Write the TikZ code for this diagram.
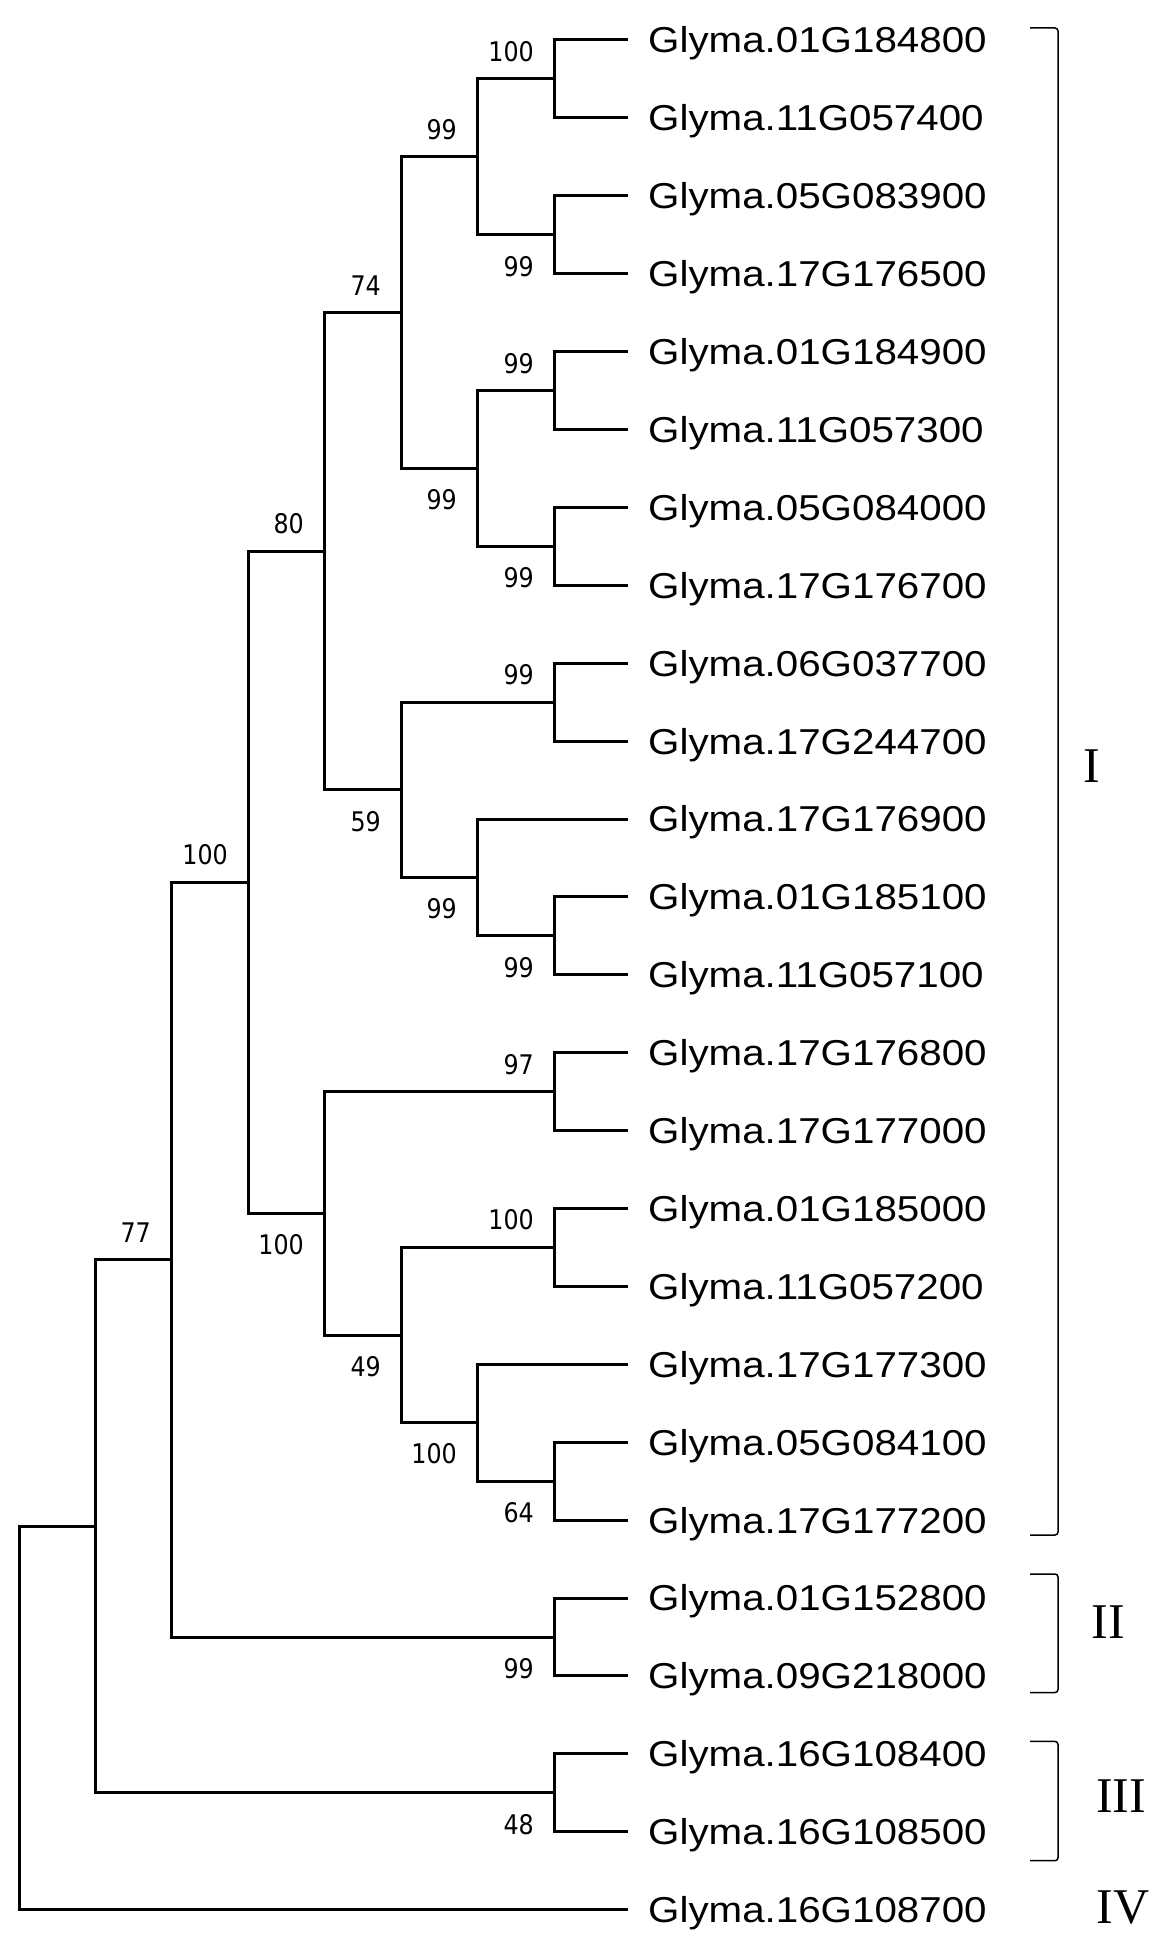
\documentclass[tikz,border=0pt]{standalone}
\usepackage{fontspec}
\setmainfont{Liberation Serif}
\newfontfamily\genefont[FakeStretch=1.12]{Liberation Sans}
\newfontfamily\bootfont[FakeStretch=0.88]{DejaVu Sans}
\usetikzlibrary{positioning}

\tikzset{
  branch/.style={line width=3pt},
  gene/.style={inner sep=0pt, text height=25.8pt, text depth=0pt,
    font=\genefont\fontsize{36}{40}\selectfont},
  boot/.style={inner sep=0pt, font=\bootfont\fontsize{27}{30}\selectfont},
  clade/.style={line width=1.5pt, rounded corners=3pt},
  cladename/.style={inner sep=0pt, font=\fontsize{50}{55}\selectfont}
}

\begin{document}
\begin{tikzpicture}[x=1pt, y=-1pt]
    \useasboundingbox (0,0) rectangle (1166,1956);

    % Leaf tips
    \coordinate (l1) at (628,40);
    \coordinate (l2) at (628,117.9);
    \coordinate (l3) at (628,195.8);
    \coordinate (l4) at (628,273.7);
    \coordinate (l5) at (628,351.6);
    \coordinate (l6) at (628,429.5);
    \coordinate (l7) at (628,507.4);
    \coordinate (l8) at (628,585.3);
    \coordinate (l9) at (628,663.2);
    \coordinate (l10) at (628,741.1);
    \coordinate (l11) at (628,819);
    \coordinate (l12) at (628,896.9);
    \coordinate (l13) at (628,974.8);
    \coordinate (l14) at (628,1052.7);
    \coordinate (l15) at (628,1130.6);
    \coordinate (l16) at (628,1208.5);
    \coordinate (l17) at (628,1286.4);
    \coordinate (l18) at (628,1364.3);
    \coordinate (l19) at (628,1442.2);
    \coordinate (l20) at (628,1520.1);
    \coordinate (l21) at (628,1598);
    \coordinate (l22) at (628,1675.9);
    \coordinate (l23) at (628,1753.8);
    \coordinate (l24) at (628,1831.7);
    \coordinate (l25) at (628,1909.6);

    % Gene names
    \node[gene, right=20pt of l1] (g1) {Glyma.01G184800};
    \node[gene, right=20pt of l2] (g2) {Glyma.11G057400};
    \node[gene, right=20pt of l3] (g3) {Glyma.05G083900};
    \node[gene, right=20pt of l4] (g4) {Glyma.17G176500};
    \node[gene, right=20pt of l5] (g5) {Glyma.01G184900};
    \node[gene, right=20pt of l6] (g6) {Glyma.11G057300};
    \node[gene, right=20pt of l7] (g7) {Glyma.05G084000};
    \node[gene, right=20pt of l8] (g8) {Glyma.17G176700};
    \node[gene, right=20pt of l9] (g9) {Glyma.06G037700};
    \node[gene, right=20pt of l10] (g10) {Glyma.17G244700};
    \node[gene, right=20pt of l11] (g11) {Glyma.17G176900};
    \node[gene, right=20pt of l12] (g12) {Glyma.01G185100};
    \node[gene, right=20pt of l13] (g13) {Glyma.11G057100};
    \node[gene, right=20pt of l14] (g14) {Glyma.17G176800};
    \node[gene, right=20pt of l15] (g15) {Glyma.17G177000};
    \node[gene, right=20pt of l16] (g16) {Glyma.01G185000};
    \node[gene, right=20pt of l17] (g17) {Glyma.11G057200};
    \node[gene, right=20pt of l18] (g18) {Glyma.17G177300};
    \node[gene, right=20pt of l19] (g19) {Glyma.05G084100};
    \node[gene, right=20pt of l20] (g20) {Glyma.17G177200};
    \node[gene, right=20pt of l21] (g21) {Glyma.01G152800};
    \node[gene, right=20pt of l22] (g22) {Glyma.09G218000};
    \node[gene, right=20pt of l23] (g23) {Glyma.16G108400};
    \node[gene, right=20pt of l24] (g24) {Glyma.16G108500};
    \node[gene, right=20pt of l25] (g25) {Glyma.16G108700};

    % Inner nodes
    \coordinate (na) at (554,79);
    \coordinate (nb) at (554,234.8);
    \coordinate (nc) at (477,156.9);
    \coordinate (nd) at (554,390.6);
    \coordinate (ne) at (554,546.4);
    \coordinate (nf) at (477,468.5);
    \coordinate (ng) at (401,312.7);
    \coordinate (nh) at (554,702.2);
    \coordinate (nj) at (554,935.9);
    \coordinate (nk) at (477,877.4);
    \coordinate (ni) at (401,789.8);
    \coordinate (nm) at (324,551.2);
    \coordinate (nn) at (554,1091.7);
    \coordinate (no) at (554,1247.5);
    \coordinate (np) at (554,1481.2);
    \coordinate (nq) at (477,1422.7);
    \coordinate (nr) at (401,1335.1);
    \coordinate (ns) at (324,1213.4);
    \coordinate (nt) at (248,882.3);
    \coordinate (nu) at (554,1637);
    \coordinate (nv) at (171,1259.6);
    \coordinate (nw) at (554,1792.8);
    \coordinate (nx) at (95,1526.2);
    \coordinate (nroot) at (19,1717.9);

    % Branches
    \draw[branch] (l1) -| (na) |- (l2);
    \draw[branch] (l3) -| (nb) |- (l4);
    \draw[branch] (na) -| (nc) |- (nb);
    \draw[branch] (l5) -| (nd) |- (l6);
    \draw[branch] (l7) -| (ne) |- (l8);
    \draw[branch] (nd) -| (nf) |- (ne);
    \draw[branch] (nc) -| (ng) |- (nf);
    \draw[branch] (l9) -| (nh) |- (l10);
    \draw[branch] (l12) -| (nj) |- (l13);
    \draw[branch] (l11) -| (nk) |- (nj);
    \draw[branch] (nh) -| (ni) |- (nk);
    \draw[branch] (ng) -| (nm) |- (ni);
    \draw[branch] (l14) -| (nn) |- (l15);
    \draw[branch] (l16) -| (no) |- (l17);
    \draw[branch] (l19) -| (np) |- (l20);
    \draw[branch] (l18) -| (nq) |- (np);
    \draw[branch] (no) -| (nr) |- (nq);
    \draw[branch] (nn) -| (ns) |- (nr);
    \draw[branch] (nm) -| (nt) |- (ns);
    \draw[branch] (l21) -| (nu) |- (l22);
    \draw[branch] (nt) -| (nv) |- (nu);
    \draw[branch] (l23) -| (nw) |- (l24);
    \draw[branch] (nv) -| (nx) |- (nw);
    \draw[branch] (nx) -| (nroot) |- (l25);

    % Bootstrap values
    \node[boot, above left=17pt and 20pt of na] (bna) {100};
    \node[boot, below left=21pt and 20pt of nb] (bnb) {99};
    \node[boot, above left=17pt and 20pt of nc] (bnc) {99};
    \node[boot, above left=17pt and 20pt of nd] (bnd) {99};
    \node[boot, below left=21pt and 20pt of ne] (bne) {99};
    \node[boot, below left=21pt and 20pt of nf] (bnf) {99};
    \node[boot, above left=17pt and 20pt of ng] (bng) {74};
    \node[boot, above left=17pt and 20pt of nh] (bnh) {99};
    \node[boot, below left=21pt and 20pt of nj] (bnj) {99};
    \node[boot, below left=21pt and 20pt of nk] (bnk) {99};
    \node[boot, below left=21pt and 20pt of ni] (bni) {59};
    \node[boot, above left=17pt and 20pt of nm] (bnm) {80};
    \node[boot, above left=17pt and 20pt of nn] (bnn) {97};
    \node[boot, above left=17pt and 20pt of no] (bno) {100};
    \node[boot, below left=21pt and 20pt of np] (bnp) {64};
    \node[boot, below left=21pt and 20pt of nq] (bnq) {100};
    \node[boot, below left=21pt and 20pt of nr] (bnr) {49};
    \node[boot, below left=21pt and 20pt of ns] (bns) {100};
    \node[boot, above left=17pt and 20pt of nt] (bnt) {100};
    \node[boot, below left=21pt and 20pt of nu] (bnu) {99};
    \node[boot, above left=17pt and 20pt of nv] (bnv) {77};
    \node[boot, below left=21pt and 20pt of nw] (bnw) {48};

    % Groups
    \draw[clade] (1030,28) -- (1058,28) -- (1058,1535) -- (1030,1535);
    \draw[clade] (1030,1574) -- (1058,1574) -- (1058,1692.5) -- (1030,1692.5);
    \draw[clade] (1030,1741.4) -- (1058,1741.4) -- (1058,1860.7) -- (1030,1860.7);
    \node[cladename] (cI) at (1092,766) {I};
    \node[cladename] (cII) at (1108,1622) {II};
    \node[cladename] (cIII) at (1121,1796) {III};
    \node[cladename] (cIV) at (1123,1907) {IV};
\end{tikzpicture}
\end{document}
